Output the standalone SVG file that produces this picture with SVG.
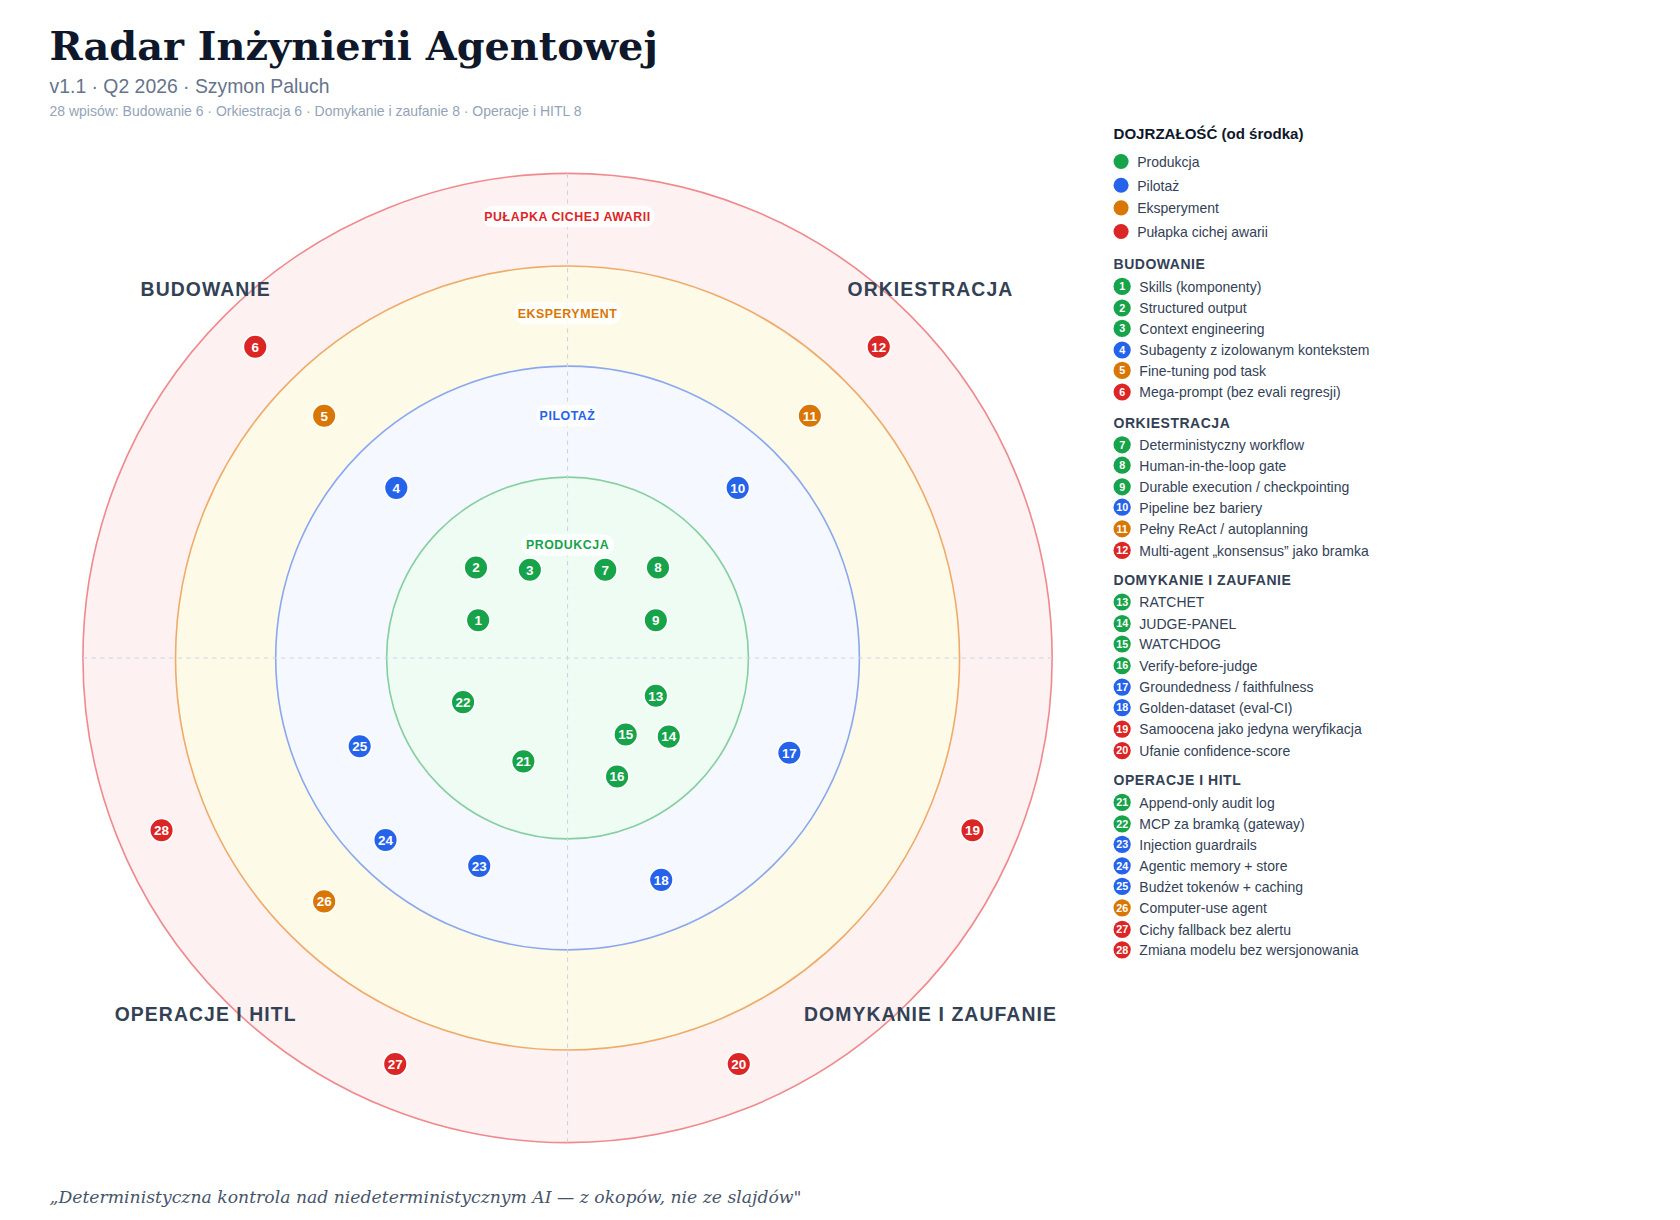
<svg xmlns="http://www.w3.org/2000/svg" width="1680" height="1220" viewBox="0 0 1680 1220">
<style>
.t{font-family:"Liberation Sans",Arial,sans-serif}
.bl circle{stroke:#fff;stroke-width:1.5}
.bl text{font-family:"Liberation Sans",Arial,sans-serif;font-size:12.5px;font-weight:bold;fill:#fff;text-anchor:middle}
.g{fill:#16a34a}.b{fill:#2563eb}.o{fill:#d97706}.r{fill:#dc2626}
.li text{font-family:"Liberation Sans",Arial,sans-serif;font-size:13px;fill:#334155}
.li circle{stroke:none}
.lb text.n{font-size:10px;font-weight:bold;fill:#fff;text-anchor:middle}
.sec{font-family:"Liberation Sans",Arial,sans-serif;font-size:13px;font-weight:bold;fill:#334155;letter-spacing:0.5px}
.q{font-family:"Liberation Sans",Arial,sans-serif;font-size:18px;font-weight:bold;fill:#334155;letter-spacing:1px}
.rl{font-family:"Liberation Sans",Arial,sans-serif;font-size:11.5px;font-weight:bold;text-anchor:middle;letter-spacing:0.5px}
</style>
<rect width="1680" height="1220" fill="#fff"/>
<g transform="scale(1.07692)">
<g id="title">
<text x="46" y="56" font-family="'DejaVu Serif',serif" font-size="37" font-weight="bold" fill="#0f172a">Radar Inżynierii Agentowej</text>
<text x="46" y="86" class="t" font-size="18" fill="#64748b">v1.1 · Q2 2026 · Szymon Paluch</text>
<text x="46" y="108" class="t" font-size="13" fill="#94a3b8">28 wpisów: Budowanie 6 · Orkiestracja 6 · Domykanie i zaufanie 8 · Operacje i HITL 8</text>
</g>
<g id="rings">
<circle cx="527" cy="611" r="450" fill="#fef1f2" stroke="#ef8a8f" stroke-width="1.5"/>
<circle cx="527" cy="611" r="364" fill="#fefae8" stroke="#eeac6a" stroke-width="1.5"/>
<circle cx="527" cy="611" r="271" fill="#f5f8ff" stroke="#8ba8ee" stroke-width="1.5"/>
<circle cx="527" cy="611" r="168" fill="#effcf3" stroke="#86cfa0" stroke-width="1.5"/>
<line x1="527" y1="161" x2="527" y2="1061" stroke="#cbd5e1" stroke-dasharray="4 4"/>
<line x1="77" y1="611" x2="977" y2="611" stroke="#cbd5e1" stroke-dasharray="4 4"/>
<rect x="448" y="191" width="160" height="20" rx="10" fill="#fff" opacity="0.85"/>
<text x="527" y="205" class="rl" fill="#dc2626">PUŁAPKA CICHEJ AWARII</text>
<rect x="477" y="281" width="100" height="20" rx="10" fill="#fff" opacity="0.85"/>
<text x="527" y="295" class="rl" fill="#d97706">EKSPERYMENT</text>
<rect x="498" y="376" width="58" height="20" rx="10" fill="#fff" opacity="0.85"/>
<text x="527" y="390" class="rl" fill="#2563eb">PILOTAŻ</text>
<rect x="484" y="496" width="86" height="20" rx="10" fill="#fff" opacity="0.85"/>
<text x="527" y="510" class="rl" fill="#16a34a">PRODUKCJA</text>
<text x="191" y="275" class="q" text-anchor="middle">BUDOWANIE</text>
<text x="864" y="275" class="q" text-anchor="middle">ORKIESTRACJA</text>
<text x="191" y="948" class="q" text-anchor="middle">OPERACJE I HITL</text>
<text x="864" y="948" class="q" text-anchor="middle">DOMYKANIE I ZAUFANIE</text>
</g>
<g id="connectors"></g>
<g id="blips" class="bl">
<g id="b1"><circle cx="444" cy="576" r="11" class="g"/><text x="444" y="580.5">1</text></g>
<g id="b2"><circle cx="442" cy="527" r="11" class="g"/><text x="442" y="531.5">2</text></g>
<g id="b3"><circle cx="492" cy="529" r="11" class="g"/><text x="492" y="533.5">3</text></g>
<g id="b4"><circle cx="368" cy="453" r="11" class="b"/><text x="368" y="457.5">4</text></g>
<g id="b5"><circle cx="301" cy="386" r="11" class="o"/><text x="301" y="390.5">5</text></g>
<g id="b6"><circle cx="237" cy="322" r="11" class="r"/><text x="237" y="326.5">6</text></g>
<g id="b7"><circle cx="562" cy="529" r="11" class="g"/><text x="562" y="533.5">7</text></g>
<g id="b8"><circle cx="611" cy="527" r="11" class="g"/><text x="611" y="531.5">8</text></g>
<g id="b9"><circle cx="609" cy="576" r="11" class="g"/><text x="609" y="580.5">9</text></g>
<g id="b10"><circle cx="685" cy="453" r="11" class="b"/><text x="685" y="457.5">10</text></g>
<g id="b11"><circle cx="752" cy="386" r="11" class="o"/><text x="752" y="390.5">11</text></g>
<g id="b12"><circle cx="816" cy="322" r="11" class="r"/><text x="816" y="326.5">12</text></g>
<g id="b13"><circle cx="609" cy="646" r="11" class="g"/><text x="609" y="650.5">13</text></g>
<g id="b14"><circle cx="621" cy="684" r="11" class="g"/><text x="621" y="688.5">14</text></g>
<g id="b15"><circle cx="581" cy="682" r="11" class="g"/><text x="581" y="686.5">15</text></g>
<g id="b16"><circle cx="573" cy="721" r="11" class="g"/><text x="573" y="725.5">16</text></g>
<g id="b17"><circle cx="733" cy="699" r="11" class="b"/><text x="733" y="703.5">17</text></g>
<g id="b18"><circle cx="614" cy="817" r="11" class="b"/><text x="614" y="821.5">18</text></g>
<g id="b19"><circle cx="903" cy="771" r="11" class="r"/><text x="903" y="775.5">19</text></g>
<g id="b20"><circle cx="686" cy="988" r="11" class="r"/><text x="686" y="992.5">20</text></g>
<g id="b21"><circle cx="486" cy="707" r="11" class="g"/><text x="486" y="711.5">21</text></g>
<g id="b22"><circle cx="430" cy="652" r="11" class="g"/><text x="430" y="656.5">22</text></g>
<g id="b23"><circle cx="445" cy="804" r="11" class="b"/><text x="445" y="808.5">23</text></g>
<g id="b24"><circle cx="358" cy="780" r="11" class="b"/><text x="358" y="784.5">24</text></g>
<g id="b25"><circle cx="334" cy="693" r="11" class="b"/><text x="334" y="697.5">25</text></g>
<g id="b26"><circle cx="301" cy="837" r="11" class="o"/><text x="301" y="841.5">26</text></g>
<g id="b27"><circle cx="367" cy="988" r="11" class="r"/><text x="367" y="992.5">27</text></g>
<g id="b28"><circle cx="150" cy="771" r="11" class="r"/><text x="150" y="775.5">28</text></g>
</g>
<g id="legend" class="li">
<text x="1034" y="129" style="fill:#0f172a;font-size:14px;font-weight:bold">DOJRZAŁOŚĆ (od środka)</text>
<circle cx="1041" cy="150" r="7" class="g"/><text x="1056" y="155">Produkcja</text>
<circle cx="1041" cy="172" r="7" class="b"/><text x="1056" y="177">Pilotaż</text>
<circle cx="1041" cy="193" r="7" class="o"/><text x="1056" y="198">Eksperyment</text>
<circle cx="1041" cy="215" r="7" class="r"/><text x="1056" y="220">Pułapka cichej awarii</text>
</g>
<g id="legend-items" class="li lb">
<text x="1034" y="250" class="sec">BUDOWANIE</text>
<circle cx="1042" cy="266" r="8" class="g"/><text class="n" x="1042" y="269.5">1</text><text x="1058" y="271">Skills (komponenty)</text>
<circle cx="1042" cy="286" r="8" class="g"/><text class="n" x="1042" y="289.5">2</text><text x="1058" y="291">Structured output</text>
<circle cx="1042" cy="305" r="8" class="g"/><text class="n" x="1042" y="308.5">3</text><text x="1058" y="310">Context engineering</text>
<circle cx="1042" cy="325" r="8" class="b"/><text class="n" x="1042" y="328.5">4</text><text x="1058" y="330">Subagenty z izolowanym kontekstem</text>
<circle cx="1042" cy="344" r="8" class="o"/><text class="n" x="1042" y="347.5">5</text><text x="1058" y="349">Fine-tuning pod task</text>
<circle cx="1042" cy="364" r="8" class="r"/><text class="n" x="1042" y="367.5">6</text><text x="1058" y="369">Mega-prompt (bez evali regresji)</text>
<text x="1034" y="397" class="sec">ORKIESTRACJA</text>
<circle cx="1042" cy="413" r="8" class="g"/><text class="n" x="1042" y="416.5">7</text><text x="1058" y="418">Deterministyczny workflow</text>
<circle cx="1042" cy="432" r="8" class="g"/><text class="n" x="1042" y="435.5">8</text><text x="1058" y="437">Human-in-the-loop gate</text>
<circle cx="1042" cy="452" r="8" class="g"/><text class="n" x="1042" y="455.5">9</text><text x="1058" y="457">Durable execution / checkpointing</text>
<circle cx="1042" cy="471" r="8" class="b"/><text class="n" x="1042" y="474.5">10</text><text x="1058" y="476">Pipeline bez bariery</text>
<circle cx="1042" cy="491" r="8" class="o"/><text class="n" x="1042" y="494.5">11</text><text x="1058" y="496">Pełny ReAct / autoplanning</text>
<circle cx="1042" cy="511" r="8" class="r"/><text class="n" x="1042" y="514.5">12</text><text x="1058" y="516">Multi-agent „konsensus” jako bramka</text>
<text x="1034" y="543" class="sec">DOMYKANIE I ZAUFANIE</text>
<circle cx="1042" cy="559" r="8" class="g"/><text class="n" x="1042" y="562.5">13</text><text x="1058" y="564">RATCHET</text>
<circle cx="1042" cy="579" r="8" class="g"/><text class="n" x="1042" y="582.5">14</text><text x="1058" y="584">JUDGE-PANEL</text>
<circle cx="1042" cy="598" r="8" class="g"/><text class="n" x="1042" y="601.5">15</text><text x="1058" y="603">WATCHDOG</text>
<circle cx="1042" cy="618" r="8" class="g"/><text class="n" x="1042" y="621.5">16</text><text x="1058" y="623">Verify-before-judge</text>
<circle cx="1042" cy="638" r="8" class="b"/><text class="n" x="1042" y="641.5">17</text><text x="1058" y="643">Groundedness / faithfulness</text>
<circle cx="1042" cy="657" r="8" class="b"/><text class="n" x="1042" y="660.5">18</text><text x="1058" y="662">Golden-dataset (eval-CI)</text>
<circle cx="1042" cy="677" r="8" class="r"/><text class="n" x="1042" y="680.5">19</text><text x="1058" y="682">Samoocena jako jedyna weryfikacja</text>
<circle cx="1042" cy="697" r="8" class="r"/><text class="n" x="1042" y="700.5">20</text><text x="1058" y="702">Ufanie confidence-score</text>
<text x="1034" y="729" class="sec">OPERACJE I HITL</text>
<circle cx="1042" cy="745" r="8" class="g"/><text class="n" x="1042" y="748.5">21</text><text x="1058" y="750">Append-only audit log</text>
<circle cx="1042" cy="765" r="8" class="g"/><text class="n" x="1042" y="768.5">22</text><text x="1058" y="770">MCP za bramką (gateway)</text>
<circle cx="1042" cy="784" r="8" class="b"/><text class="n" x="1042" y="787.5">23</text><text x="1058" y="789">Injection guardrails</text>
<circle cx="1042" cy="804" r="8" class="b"/><text class="n" x="1042" y="807.5">24</text><text x="1058" y="809">Agentic memory + store</text>
<circle cx="1042" cy="823" r="8" class="b"/><text class="n" x="1042" y="826.5">25</text><text x="1058" y="828">Budżet tokenów + caching</text>
<circle cx="1042" cy="843" r="8" class="o"/><text class="n" x="1042" y="846.5">26</text><text x="1058" y="848">Computer-use agent</text>
<circle cx="1042" cy="863" r="8" class="r"/><text class="n" x="1042" y="866.5">27</text><text x="1058" y="868">Cichy fallback bez alertu</text>
<circle cx="1042" cy="882" r="8" class="r"/><text class="n" x="1042" y="885.5">28</text><text x="1058" y="887">Zmiana modelu bez wersjonowania</text>
</g>
<text id="quote" x="46" y="1117" font-family="'DejaVu Serif',serif" font-style="italic" font-size="16" fill="#475569">„Deterministyczna kontrola nad niedeterministycznym AI — z okopów, nie ze slajdów"</text>
</g>
</svg>
